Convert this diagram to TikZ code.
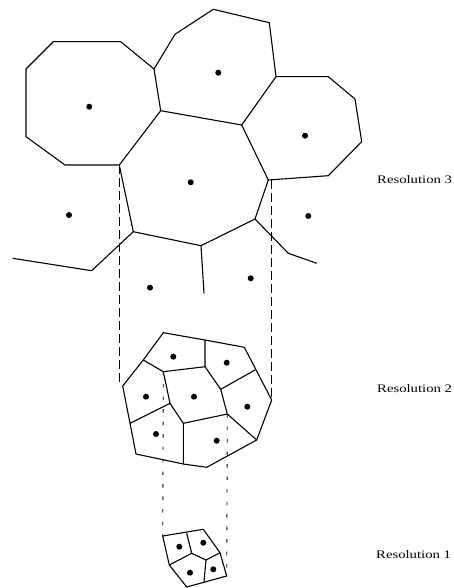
\documentclass[tikz,border=0pt]{standalone}
\usepackage{fontspec}
\setmainfont{Liberation Serif}
\usepackage{graphicx}
\usepackage{tikz}

\newcommand{\widelabel}[1]{\scalebox{1.28}[1]{#1}}

\tikzset{
  cell/.style={line width=1.1pt, line join=round},
  site/.style={circle, fill=black, inner sep=0pt, minimum size=6pt},
  reslabel/.style={font=\fontsize{11.5}{13}\selectfont, anchor=west, inner sep=0pt},
  linkdash/.style={line width=0.9pt, dash pattern=on 9pt off 4pt},
  linkdot/.style={line width=0.9pt, dash pattern=on 3.5pt off 9pt}
}

\begin{document}
\begin{tikzpicture}[x=1pt, y=-1pt]
  \useasboundingbox (0,0) rectangle (453,588);

  % resolution 3
  \coordinate (ta) at (26,69);
  \coordinate (tb) at (53.3,41.7);
  \coordinate (tc) at (120.7,41.7);
  \coordinate (td) at (154,69);
  \coordinate (te) at (160.7,110.7);
  \coordinate (tf) at (119.3,165);
  \coordinate (tg) at (65,165);
  \coordinate (th) at (26,136.7);
  \coordinate (ti) at (175,34.3);
  \coordinate (tj) at (213.3,9.3);
  \coordinate (tk) at (269.3,22.7);
  \coordinate (tl) at (276,76.7);
  \coordinate (tm) at (241.7,125);
  \coordinate (tn) at (328.3,76.7);
  \coordinate (to) at (355,99);
  \coordinate (tp) at (361.7,141.7);
  \coordinate (tq) at (328.3,175.7);
  \coordinate (tr) at (268.3,180);
  \coordinate (ts) at (255,219);
  \coordinate (tu) at (201,245.7);
  \coordinate (tv) at (133.3,231.7);

  \draw[cell] (td) -- (tc) -- (tb) -- (ta) -- (th) -- (tg) -- (tf);
  \draw[cell] (td) -- (ti) -- (tj) -- (tk) -- (tl);
  \draw[cell] (tl) -- (tn) -- (to) -- (tp) -- (tq) -- (tr);
  \draw[cell] (td) -- (te) -- (tm) -- (tl);
  \draw[cell] (tm) -- (tr);
  \draw[cell] (te) -- (tf) -- (tv) -- (tu) -- (ts) -- (tr);
  \draw[cell] (tv) -- (91.7,270.7) -- (12.7,258.3);
  \draw[cell] (tu) -- (204,293.3);
  \draw[cell] (ts) -- (288.3,253.3) -- (316.7,263.3);

  \foreach \p [count=\i] in {(89.3,106.7),(218.3,72.7),(305,135.7),(190.7,182.3),
                             (69,215),(308.3,216),(150,287.7),(250.7,278.3)}
    \node[site] (t\i) at \p {};

  % resolution 2
  \coordinate (mA) at (163.3,332.7);
  \coordinate (mB) at (205,340);
  \coordinate (mC) at (244.3,347.3);
  \coordinate (mD) at (271.7,400);
  \coordinate (mE) at (256.7,440);
  \coordinate (mF) at (206.7,467.3);
  \coordinate (mG) at (183.3,464);
  \coordinate (mH) at (136,454);
  \coordinate (mI) at (130,423.3);
  \coordinate (mJ) at (122.7,386);
  \coordinate (mK) at (143.3,360);
  \coordinate (mL) at (163.3,371.7);
  \coordinate (mM) at (205,366.7);
  \coordinate (mN) at (220.7,389.3);
  \coordinate (mO) at (255,370);
  \coordinate (mP) at (227.3,414);
  \coordinate (mQ) at (183.3,423.3);
  \coordinate (mR) at (170,403.3);

  \draw[cell] (mA) -- (mB) -- (mC) -- (mD) -- (mE) -- (mF) -- (mG) -- (mH)
              -- (mI) -- (mJ) -- (mK) -- cycle;
  \draw[cell] (mK) -- (mL) -- (mM) -- (mB);
  \draw[cell] (mM) -- (mN) -- (mO);
  \draw[cell] (mN) -- (mP) -- (mE);
  \draw[cell] (mP) -- (mQ) -- (mG);
  \draw[cell] (mQ) -- (mR) -- (mL);
  \draw[cell] (mR) -- (mI);

  \foreach \p [count=\i] in {(173.3,356.7),(226.7,362.7),(146,396.7),(194,396.7),
                             (247.3,406.7),(156,434),(216.7,440.7)}
    \node[site] (m\i) at \p {};

  % resolution 1
  \coordinate (bA) at (162.7,536);
  \coordinate (bB) at (203.3,529.3);
  \coordinate (bC) at (220,552.7);
  \coordinate (bD) at (226.7,576);
  \coordinate (bE) at (186.7,587);
  \coordinate (bF) at (169.3,565);
  \coordinate (bG) at (186.7,533.3);
  \coordinate (bH) at (191.7,553.3);
  \coordinate (bI) at (206,560);
  \coordinate (bJ) at (204,581.7);

  \draw[cell] (bA) -- (bB) -- (bC) -- (bD) -- (bE) -- (bF) -- cycle;
  \draw[cell] (bG) -- (bH) -- (bF);
  \draw[cell] (bH) -- (bI) -- (bC);
  \draw[cell] (bI) -- (bJ);

  \foreach \p [count=\i] in {(179.3,546.7),(203.3,542.7),(190,572.7),(213.3,569.3)}
    \node[site] (b\i) at \p {};

  % links between levels
  \draw[linkdash] (tf) -- (tf |- mJ);
  \draw[linkdash] (mD |- tr) -- (mD);
  \draw[linkdot] (mL) -- (bA);
  \draw[linkdot] (mP) -- (bD);

  \node[reslabel] (res3) at (377,180) {\widelabel{Resolution 3}};
  \node[reslabel] (res2) at (377,389) {\widelabel{Resolution 2}};
  \node[reslabel] (res1) at (376,555) {\widelabel{Resolution 1}};
\end{tikzpicture}
\end{document}
